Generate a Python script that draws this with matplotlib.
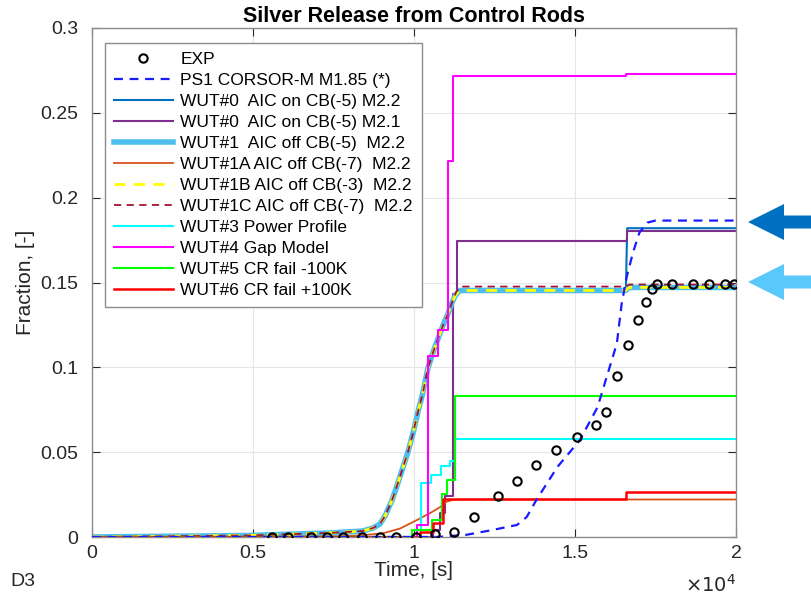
import numpy as np
import matplotlib
matplotlib.use("Agg")
import matplotlib.pyplot as plt
from matplotlib.patches import Polygon
from matplotlib.ticker import FuncFormatter

plt.rcParams['font.family'] = ['Liberation Sans', 'DejaVu Sans']

# experiment
exp_t = [5600, 6100, 6800, 7300, 7800, 8400, 8950, 9450, 10050, 10650, 11250, 11850,
         12600, 13200, 13800, 14400, 15050, 15650, 15950, 16300, 16650, 16950, 17200,
         17400, 17550, 18000, 18650, 19150, 19650, 19950]
exp_f = [0, 0, 0, 0, 0, 0, 0, 0, 0, 0.0016, 0.0032, 0.0119,
         0.0241, 0.0331, 0.0424, 0.0512, 0.0590, 0.0663, 0.0739, 0.0949, 0.1129, 0.1280, 0.1384,
         0.1459, 0.1492, 0.1492, 0.1492, 0.1492, 0.1492, 0.1492]

# PS1 CORSOR-M
ps1_t = [0, 10700, 11600, 12350, 13200, 13500, 13800, 14450, 15150, 15700, 16000,
         16300, 16450, 16600, 16800, 17000, 17250, 17500, 20000]
ps1_f = [0, 0, 0.0012, 0.0038, 0.0071, 0.0118, 0.0218, 0.0412, 0.0571, 0.0765, 0.0953,
         0.1141, 0.1376, 0.1529, 0.1676, 0.1794, 0.1853, 0.1865, 0.1865]

# WUT#1 base case (WUT#1B is on top of it)
wut1_t = [0, 4900, 7400, 8400, 8730, 8940, 9100, 9320, 9500, 9660, 9810, 9970, 10120,
          10280, 10430, 10590, 10750, 10900, 11060, 11180, 11300, 11430, 16580, 16680, 20000]
wut1_f = [0, 0.0009, 0.0024, 0.0035, 0.0053, 0.0076, 0.0124, 0.0218, 0.0318, 0.0412, 0.05,
          0.0612, 0.0735, 0.0853, 0.0994, 0.1088, 0.1171, 0.1247, 0.1318, 0.1382, 0.1429,
          0.1453, 0.1453, 0.1471, 0.1471]

wut0_t = [0, 4900, 7400, 8400, 8730, 8940, 9100, 9320, 9500, 9660, 9810, 9970, 10120,
          10280, 10430, 10590, 10750, 10900, 11060, 11180, 11300, 11430, 16580, 16620, 20000]
wut0_f = [0, 0.0009, 0.0024, 0.0035, 0.0053, 0.0076, 0.0124, 0.0218, 0.0318, 0.0412, 0.05,
          0.0612, 0.0735, 0.0853, 0.0994, 0.1088, 0.1171, 0.1247, 0.1318, 0.1382, 0.1429,
          0.1453, 0.1453, 0.182, 0.182]

wut1c_f = [0, 0.0009, 0.0024, 0.0035, 0.0053, 0.0076, 0.0124, 0.0218, 0.0318, 0.0412, 0.05,
           0.0612, 0.0735, 0.0853, 0.0994, 0.1088, 0.1171, 0.1247, 0.1318, 0.1382, 0.1440,
           0.1476, 0.1476, 0.1488, 0.1488]

wut1a_t = [0, 7400, 8320, 9040, 9570, 10090, 10500, 10810, 10990, 11180, 11430, 20000]
wut1a_f = [0, 0.0003, 0.0009, 0.0022, 0.005, 0.01, 0.0141, 0.0176, 0.0206, 0.0218, 0.0221, 0.0221]

# step-wise results
wut0b_t = [0, 10590, 10810, 10960, 11210, 11340, 16600, 20000]
wut0b_f = [0, 0.004, 0.014, 0.024, 0.143, 0.1747, 0.1806, 0.1806]
wut3_t = [0, 10220, 10530, 10840, 11120, 11270, 20000]
wut3_f = [0, 0.0316, 0.0365, 0.0418, 0.0447, 0.0575, 0.0575]
wut4_t = [0, 10080, 10420, 10730, 11060, 11200, 16580, 20000]
wut4_f = [0, 0.0071, 0.1065, 0.1218, 0.2218, 0.2718, 0.273, 0.273]
wut5_t = [0, 9930, 10560, 10860, 11020, 11270, 20000]
wut5_f = [0, 0.0041, 0.01, 0.0253, 0.0335, 0.0832, 0.0832]
wut6_t = [0, 10190, 10590, 10900, 16580, 20000]
wut6_f = [0, 0.0031, 0.0081, 0.0224, 0.0263, 0.0263]

fig = plt.figure(figsize=(8.12, 6.0), dpi=100)
ax = fig.add_axes([92 / 812, 63 / 600, 644 / 812, 509 / 600])

ax.plot(exp_t, exp_f, 'o', mfc='none', mec='k', mew=1.5, ms=6, label='EXP', zorder=20)
ax.plot(ps1_t, ps1_f, '--', color='#1a1aff', lw=1.6, dashes=(4, 3), label='PS1 CORSOR-M M1.85 (*)', zorder=15)
ax.plot(wut0_t, wut0_f, color='#0072bd', lw=1.5, label='WUT#0  AIC on CB(-5) M2.2')
ax.step(wut0b_t, wut0b_f, where='post', color='#7e2f8e', lw=1.5, label='WUT#0  AIC on CB(-5) M2.1')
ax.plot(wut1_t, wut1_f, color='#4dbeee', lw=4.0, label='WUT#1  AIC off CB(-5)  M2.2')
ax.plot(wut1a_t, wut1a_f, color='#d95319', lw=1.3, label='WUT#1A AIC off CB(-7)  M2.2')
ax.plot(wut1_t, wut1_f, '--', color='#ffff00', lw=2.0, dashes=(4, 3), label='WUT#1B AIC off CB(-3)  M2.2')
ax.plot(wut1_t, wut1c_f, '--', color='#a2142f', lw=1.3, dashes=(4, 3), label='WUT#1C AIC off CB(-7)  M2.2')
ax.step(wut3_t, wut3_f, where='post', color='#00ffff', lw=1.5, label='WUT#3 Power Profile')
ax.step(wut4_t, wut4_f, where='post', color='#ff00ff', lw=1.5, label='WUT#4 Gap Model')
ax.step(wut5_t, wut5_f, where='post', color='#00ff00', lw=1.5, label='WUT#5 CR fail -100K')
ax.step(wut6_t, wut6_f, where='post', color='#ff0000', lw=1.8, label='WUT#6 CR fail +100K')

ax.set_xlim(0, 20000)
ax.set_ylim(0, 0.3)
ax.set_xticks(np.arange(0, 20001, 5000))
ax.set_yticks(np.arange(0, 0.301, 0.05))
ax.xaxis.set_major_formatter(FuncFormatter(lambda v, p: f'{v / 1e4:g}'))
ax.yaxis.set_major_formatter(FuncFormatter(lambda v, p: f'{round(v, 2):g}'))
ax.tick_params(direction='in', length=6, width=0.8, colors='#262626', labelsize=14,
               top=True, right=True)
ax.tick_params(axis='y', pad=10)
ax.tick_params(axis='x', pad=6)
for s in ax.spines.values():
    s.set_color('#8c8c8c')
    s.set_linewidth(1.0)
ax.grid(True, color='#e6e6e6', lw=0.8)
ax.set_axisbelow(True)

ax.set_xlabel('Time, [s]', fontsize=15, color='#262626', labelpad=-1)
ax.set_ylabel('Fraction, [-]', fontsize=15, color='#262626', labelpad=4)
ax.set_title('Silver Release from Control Rods', fontsize=15.5, fontweight='bold', pad=4)

ax.text(1.0, -0.094, r'$\times10^{4}$', transform=ax.transAxes, ha='right', va='center',
        fontsize=14, color='#262626')
fig.text(10 / 812, 1 - 582 / 600, 'D3', fontsize=14, va='center', color='#262626')

leg = ax.legend(loc='upper left', bbox_to_anchor=(0.02, 0.971), fontsize=12.5,
                handlelength=3.4, labelspacing=0.34, borderpad=0.5, handletextpad=0.45,
                fancybox=False, framealpha=1, edgecolor='#8c8c8c', borderaxespad=0)
leg.get_frame().set_linewidth(1.0)


def block_arrow(tip_x, tip_y, color):
    # left-pointing block arrow, pixel units from the top-left corner
    head_len, head_h, shaft_h, end_x = 36, 36, 13, 812
    pts = [(tip_x, tip_y),
           (tip_x + head_len, tip_y - head_h / 2),
           (tip_x + head_len, tip_y - shaft_h / 2),
           (end_x, tip_y - shaft_h / 2),
           (end_x, tip_y + shaft_h / 2),
           (tip_x + head_len, tip_y + shaft_h / 2),
           (tip_x + head_len, tip_y + head_h / 2)]
    pts = [(x / 100, (600 - y) / 100) for x, y in pts]
    fig.patches.append(Polygon(pts, closed=True, fc=color, ec='none',
                               transform=fig.dpi_scale_trans))


block_arrow(748, 222, '#0070c0')
block_arrow(748, 282, '#5ac8fa')

fig.savefig('out.png', dpi=100)
